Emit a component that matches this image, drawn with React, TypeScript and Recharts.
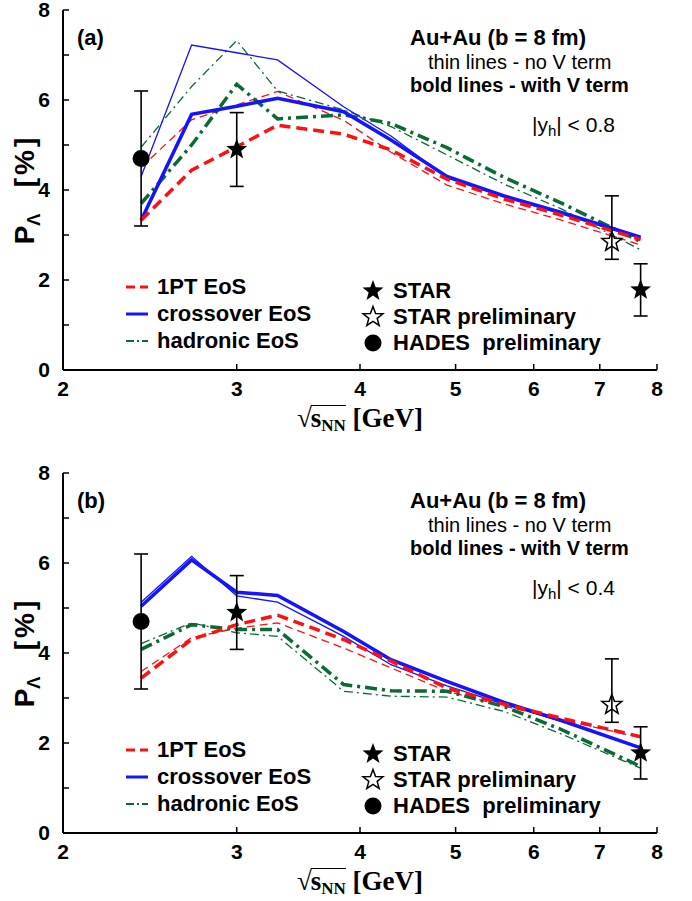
import React from 'react';
import { ComposedChart, Line, Scatter, XAxis, YAxis, ErrorBar } from 'recharts';

// collision energies sqrt(s_NN) [GeV] of the model calculations
const energies = [2.4, 2.7, 3.0, 3.3, 3.85, 4.3, 4.9, 5.6, 6.4, 7.7];
const xTicks = [2, 3, 4, 5, 6, 7, 8];
const yTicks = [0, 1, 2, 3, 4, 5, 6, 7, 8];

// panel (a): |y_h| < 0.8
const aRedBold = [3.33, 4.44, 4.96, 5.44, 5.24, 4.89, 4.24, 3.8, 3.44, 2.9];
const aRedThin = [4.5, 5.56, 5.89, 6.19, 5.55, 4.84, 4.11, 3.69, 3.33, 2.78];
const aBlueBold = [3.33, 5.68, 5.86, 6.04, 5.74, 5.11, 4.3, 3.87, 3.5, 2.95];
const aBlueThin = [4.3, 7.22, 7.05, 6.89, 5.85, 5.2, 4.27, 3.84, 3.47, 2.93];
const aGreenBold = [3.7, 5.0, 6.35, 5.58, 5.67, 5.48, 4.94, 4.28, 3.71, 2.85];
const aGreenThin = [4.95, 6.3, 7.32, 6.2, 5.78, 5.41, 4.78, 4.13, 3.58, 2.67];

// panel (b): |y_h| < 0.4
const bRedBold = [3.44, 4.3, 4.63, 4.84, 4.3, 3.82, 3.22, 2.86, 2.55, 2.14];
const bRedThin = [3.59, 4.34, 4.55, 4.67, 4.11, 3.67, 3.15, 2.82, 2.52, 2.12];
const bBlueBold = [5.04, 6.07, 5.35, 5.28, 4.48, 3.85, 3.37, 2.9, 2.5, 1.89];
const bBlueThin = [5.13, 6.15, 5.27, 5.13, 4.37, 3.74, 3.27, 2.86, 2.48, 1.89];
const bGreenBold = [4.08, 4.63, 4.52, 4.52, 3.3, 3.16, 3.15, 2.81, 2.3, 1.48];
const bGreenThin = [4.21, 4.67, 4.45, 4.37, 3.15, 3.04, 3.02, 2.7, 2.2, 1.44];

// experimental data
const starX = [3.0, 7.7];
const starY = [4.9, 1.78];
const starErr = [0.82, 0.58];
const starPrelX = [7.2];
const starPrelY = [2.85];
const starPrelErrLow = [0.39];
const starPrelErrHigh = [1.02];
const hadesX = [2.4];
const hadesY = [4.7];
const hadesErr = [1.5];

const RED = '#ff1010';
const BLUE = '#1414ff';
const GREEN = '#0b6a33';
const SANS = '"Liberation Sans", Arial, sans-serif';
const SERIF = '"Liberation Serif", "Times New Roman", serif';

function starPath(cx: number, cy: number, R: number) {
  const r = R * 0.42;
  let d = '';
  for (let k = 0; k < 10; k++) {
    const ang = -Math.PI / 2 + (k * Math.PI) / 5;
    const rad = k % 2 === 0 ? R : r;
    d += (k === 0 ? 'M' : 'L') + (cx + rad * Math.cos(ang)).toFixed(2) + ',' + (cy + rad * Math.sin(ang)).toFixed(2);
  }
  return d + 'Z';
}

const starData = starX.map((x, i) => ({ x, y: starY[i], err: starErr[i] }));
const starPrelData = starPrelX.map((x, i) => ({ x, y: starPrelY[i], err: [starPrelErrLow[i], starPrelErrHigh[i]] }));
const hadesData = hadesX.map((x, i) => ({ x, y: hadesY[i], err: hadesErr[i] }));

const axisLine = { stroke: '#000', strokeWidth: 2 };
const tickLine = { stroke: '#000', strokeWidth: 1.5 };
const tickFont = { fill: '#000', fontSize: 21, fontWeight: 700, fontFamily: SANS };

function LegendLine({ color, width, dash }: { color: string; width: number; dash?: string }) {
  return (
    <svg width={24} height={10} style={{ display: 'block' }}>
      <line x1={1} y1={5} x2={23} y2={5} stroke={color} strokeWidth={width} strokeDasharray={dash} />
    </svg>
  );
}

function Txt({ left, y, size, bold, children }: any) {
  return (
    <div
      style={{
        position: 'absolute',
        left,
        top: y - 13,
        height: 26,
        lineHeight: '26px',
        fontSize: size,
        fontWeight: bold ? 700 : 400,
        fontFamily: SANS,
        whiteSpace: 'nowrap',
        color: '#000',
      }}
    >
      {children}
    </div>
  );
}

function VText({ x, y, children, spacing }: any) {
  return (
    <div
      style={{
        position: 'absolute',
        left: x,
        top: y,
        transform: 'translate(-50%, -50%) rotate(-90deg)',
        whiteSpace: 'nowrap',
        fontFamily: SANS,
        fontWeight: 700,
        fontSize: 28,
        lineHeight: '32px',
        letterSpacing: spacing || 0,
      }}
    >
      {children}
    </div>
  );
}

// the panel box is positioned 10px above its plot top, so overlay y values are plot-relative + 10
function Panel({ top, tag, cut, rb, rt, bb, bt, gb, gt }: any) {
  const rows = energies.map((x, i) => ({ x, rb: rb[i], rt: rt[i], bb: bb[i], bt: bt[i], gb: gb[i], gt: gt[i] }));
  const off = 10;
  return (
    <div style={{ position: 'absolute', left: 0, top: top - off, width: 692, height: 460 }}>
      <ComposedChart width={692} height={460} data={rows} margin={{ top: 20, right: 35, bottom: 50, left: 0 }}>
        <XAxis
          xAxisId="b"
          dataKey="x"
          type="number"
          scale="log"
          domain={[2, 8]}
          allowDataOverflow
          ticks={xTicks}
          interval={0}
          orientation="bottom"
          height={30}
          tickSize={-6}
          tickMargin={17}
          axisLine={axisLine}
          tickLine={tickLine}
          tick={tickFont}
        />
        <XAxis
          xAxisId="t"
          dataKey="x"
          type="number"
          scale="log"
          domain={[2, 8]}
          allowDataOverflow
          ticks={xTicks}
          interval={0}
          orientation="top"
          height={0}
          tickSize={-6}
          axisLine={axisLine}
          tickLine={tickLine}
          tickFormatter={() => ''}
        />
        <YAxis
          yAxisId="l"
          type="number"
          domain={[0, 8]}
          allowDataOverflow
          ticks={yTicks}
          interval={0}
          width={63}
          tickSize={-6}
          tickMargin={19}
          axisLine={axisLine}
          tickLine={tickLine}
          tick={tickFont}
          tickFormatter={(v: number) => (v % 2 === 0 ? String(v) : '')}
        />
        <YAxis
          yAxisId="r"
          orientation="right"
          type="number"
          domain={[0, 8]}
          allowDataOverflow
          ticks={yTicks}
          interval={0}
          width={0}
          tickSize={-6}
          axisLine={axisLine}
          tickLine={tickLine}
          tickFormatter={() => ''}
        />
        <Line xAxisId="b" yAxisId="l" type="linear" dataKey="rt" stroke={RED} strokeWidth={1.3} strokeDasharray="8 5" dot={false} isAnimationActive={false} />
        <Line xAxisId="b" yAxisId="l" type="linear" dataKey="gt" stroke={GREEN} strokeWidth={1.3} strokeDasharray="9 4 2 4" dot={false} isAnimationActive={false} />
        <Line xAxisId="b" yAxisId="l" type="linear" dataKey="bt" stroke={BLUE} strokeWidth={1.3} dot={false} isAnimationActive={false} />
        <Line xAxisId="b" yAxisId="l" type="linear" dataKey="gb" stroke={GREEN} strokeWidth={3.5} strokeDasharray="12 5 3 5" dot={false} isAnimationActive={false} />
        <Line xAxisId="b" yAxisId="l" type="linear" dataKey="bb" stroke={BLUE} strokeWidth={3.5} dot={false} isAnimationActive={false} />
        <Line xAxisId="b" yAxisId="l" type="linear" dataKey="rb" stroke={RED} strokeWidth={3.5} strokeDasharray="11 6" dot={false} isAnimationActive={false} />
        <Scatter
          xAxisId="b"
          yAxisId="l"
          data={hadesData}
          dataKey="y"
          isAnimationActive={false}
          shape={(p: any) => <circle cx={p.cx} cy={p.cy} r={8.5} fill="#000" />}
        >
          <ErrorBar dataKey="err" direction="y" width={7} stroke="#000" strokeWidth={1.6} />
        </Scatter>
        <Scatter
          xAxisId="b"
          yAxisId="l"
          data={starData}
          dataKey="y"
          isAnimationActive={false}
          shape={(p: any) => <path d={starPath(p.cx, p.cy, 11)} fill="#000" />}
        >
          <ErrorBar dataKey="err" direction="y" width={7} stroke="#000" strokeWidth={1.6} />
        </Scatter>
        <Scatter
          xAxisId="b"
          yAxisId="l"
          data={starPrelData}
          dataKey="y"
          isAnimationActive={false}
          shape={(p: any) => <path d={starPath(p.cx, p.cy, 10.5)} fill="#fff" fillOpacity={0} stroke="#000" strokeWidth={1.5} />}
        >
          <ErrorBar dataKey="err" direction="y" width={7} stroke="#000" strokeWidth={1.6} />
        </Scatter>
      </ComposedChart>

      {/* panel annotations */}
      <Txt left={77} y={38 + off} size={22} bold>{tag}</Txt>
      <Txt left={410} y={38 + off} size={22} bold>Au+Au (b = 8 fm)</Txt>
      <Txt left={428} y={62 + off} size={20}>thin lines - no V term</Txt>
      <Txt left={410} y={85 + off} size={20} bold>bold lines - with V term</Txt>
      <Txt left={532} y={125 + off} size={21}>
        |y<sub style={{ fontSize: 15, verticalAlign: '-4px', lineHeight: 0 }}>h</sub>| &lt; {cut}
      </Txt>

      {/* legend: models */}
      <div style={{ position: 'absolute', left: 125, top: 282 + off }}><LegendLine color={RED} width={3} dash="9 5" /></div>
      <Txt left={157} y={287 + off} size={22} bold>1PT EoS</Txt>
      <div style={{ position: 'absolute', left: 125, top: 309 + off }}><LegendLine color={BLUE} width={3} /></div>
      <Txt left={157} y={314 + off} size={22} bold>crossover EoS</Txt>
      <div style={{ position: 'absolute', left: 125, top: 336 + off }}><LegendLine color={GREEN} width={2} dash="8 3 2 3" /></div>
      <Txt left={157} y={341 + off} size={22} bold>hadronic EoS</Txt>

      {/* legend: data */}
      <svg style={{ position: 'absolute', left: 360, top: 278 + off }} width={28} height={80}>
        <path d={starPath(13, 13, 11)} fill="#000" />
        <path d={starPath(13, 39, 10.5)} fill="none" stroke="#000" strokeWidth={1.5} />
        <circle cx={13} cy={65} r={8.5} fill="#000" />
      </svg>
      <Txt left={393} y={291 + off} size={22} bold>STAR</Txt>
      <Txt left={393} y={317 + off} size={22} bold>STAR preliminary</Txt>
      <Txt left={393} y={343 + off} size={22} bold>HADES&nbsp;&nbsp;preliminary</Txt>

      {/* y axis title: P_Λ [%] */}
      <VText x={25} y={229 + off}>
        P<sub style={{ fontSize: 18, verticalAlign: '-6px', lineHeight: 0 }}>&Lambda;</sub>
      </VText>
      <VText x={25} y={161 + off} spacing="3px">[%]</VText>

      {/* x axis title */}
      <div
        style={{
          position: 'absolute',
          left: 360,
          top: 418 + off,
          transform: 'translate(-50%, -50%)',
          whiteSpace: 'nowrap',
          fontFamily: SERIF,
          fontWeight: 700,
          fontSize: 27,
          lineHeight: '32px',
        }}
      >
        <span style={{ fontWeight: 400 }}>&radic;</span>
        <span
          style={{
            display: 'inline-block',
            borderTop: '1.5px solid #000',
            lineHeight: '24px',
            marginLeft: -1,
          }}
        >
          s<sub style={{ fontSize: 17, verticalAlign: '-4px', lineHeight: 0 }}>NN</sub>
        </span>{' '}
        [GeV]
      </div>
    </div>
  );
}

export default function App() {
  return (
    <div style={{ position: 'absolute', left: 0, top: 0, width: 692, height: 901, background: '#fff' }}>
      <Panel top={0} tag="(a)" cut="0.8" rb={aRedBold} rt={aRedThin} bb={aBlueBold} bt={aBlueThin} gb={aGreenBold} gt={aGreenThin} />
      <Panel top={463} tag="(b)" cut="0.4" rb={bRedBold} rt={bRedThin} bb={bBlueBold} bt={bBlueThin} gb={bGreenBold} gt={bGreenThin} />
    </div>
  );
}
